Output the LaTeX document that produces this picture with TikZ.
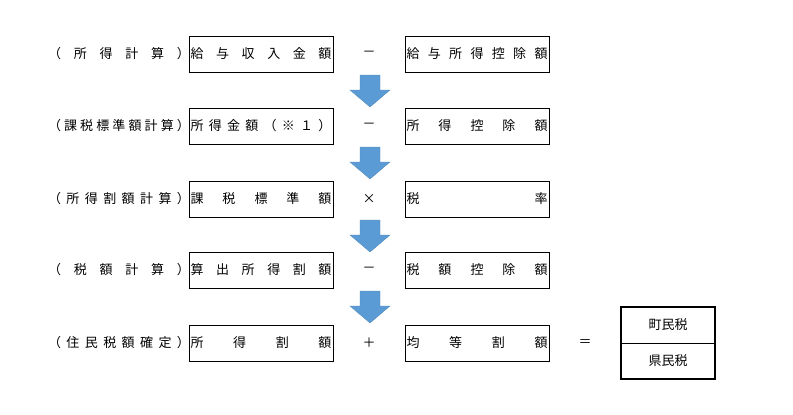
\documentclass[tikz,border=0pt]{standalone}
\usepackage{fontspec}
\newfontfamily\jpfont{Noto Sans CJK JP}
\definecolor{arrowblue}{HTML}{5B9BD5}
\newcommand{\spreadtext}[2]{\makebox[#1][s]{#2}}
\begin{document}
\begin{tikzpicture}[x=1pt,y=-1pt,
  every node/.style={font=\jpfont\fontsize{13}{15}\selectfont, inner sep=0pt},
  valbox/.style={draw, line width=0.9pt, minimum width=144pt, minimum height=36pt},
  lbl/.style={anchor=center},
  opr/.style={anchor=center},
  barrow/.style={fill=arrowblue, draw=arrowblue!85!black, line width=0.3pt}]
\useasboundingbox (0,0) rectangle (793,415);
\fill[white] (0,0) rectangle (793,415);
\newcommand{\blockarrow}[1]{%
  \path[barrow] (360,#1) -- (380,#1) -- (380,#1+15) -- (390,#1+15) -- (370,#1+32)
    -- (350,#1+15) -- (360,#1+15) -- cycle;}
% row 1
\node[lbl] (l1) at (119,54) {\spreadtext{142pt}{（\hfill 所\hfill 得\hfill 計\hfill 算\hfill ）}};
\node[valbox] (a1) at (261,54) {\spreadtext{141pt}{給\hfill 与\hfill 収\hfill 入\hfill 金\hfill 額}};
\node[opr] (o1) at (369,54) {－};
\node[valbox] (b1) at (477,54) {\spreadtext{141pt}{給\hfill 与\hfill 所\hfill 得\hfill 控\hfill 除\hfill 額}};
% row 2
\node[lbl] (l2) at (119,126) {\spreadtext{142pt}{（\hfill 課\hfill 税\hfill 標\hfill 準\hfill 額\hfill 計\hfill 算\hfill ）}};
\node[valbox] (a2) at (261,126) {\spreadtext{141pt}{所\hfill 得\hfill 金\hfill 額\hfill （\hfill ※\hfill １\hfill ）}};
\node[opr] (o2) at (369,126) {－};
\node[valbox] (b2) at (477,126) {\spreadtext{141pt}{所\hfill 得\hfill 控\hfill 除\hfill 額}};
% row 3
\node[lbl] (l3) at (119,199) {\spreadtext{142pt}{（\hfill 所\hfill 得\hfill 割\hfill 額\hfill 計\hfill 算\hfill ）}};
\node[valbox] (a3) at (261,199) {\spreadtext{141pt}{課\hfill 税\hfill 標\hfill 準\hfill 額}};
\node[opr] (o3) at (369,199) {×};
\node[valbox] (b3) at (477,199) {\spreadtext{141pt}{税\hfill 率}};
% row 4
\node[lbl] (l4) at (119,270) {\spreadtext{142pt}{（\hfill 税\hfill 額\hfill 計\hfill 算\hfill ）}};
\node[valbox] (a4) at (261,270) {\spreadtext{141pt}{算\hfill 出\hfill 所\hfill 得\hfill 割\hfill 額}};
\node[opr] (o4) at (369,270) {－};
\node[valbox] (b4) at (477,270) {\spreadtext{141pt}{税\hfill 額\hfill 控\hfill 除\hfill 額}};
% row 5
\node[lbl] (l5) at (119,343) {\spreadtext{142pt}{（\hfill 住\hfill 民\hfill 税\hfill 額\hfill 確\hfill 定\hfill ）}};
\node[valbox] (a5) at (261,343) {\spreadtext{141pt}{所\hfill 得\hfill 割\hfill 額}};
\node[opr] (o5) at (369,343) {＋};
\node[valbox] (b5) at (477,343) {\spreadtext{141pt}{均\hfill 等\hfill 割\hfill 額}};
\node[opr] (eq) at (585,343) {＝};
% result box
\node[draw, line width=1.8pt, minimum width=94pt, minimum height=72pt] (res) at (668,343) {};
\draw[line width=0.9pt] (res.west) -- (res.east);
\node (t1) at (668,325) {町民税};
\node (t2) at (668,361) {県民税};
% arrows
\blockarrow{75}
\blockarrow{147}
\blockarrow{220}
\blockarrow{291}
\end{tikzpicture}
\end{document}
